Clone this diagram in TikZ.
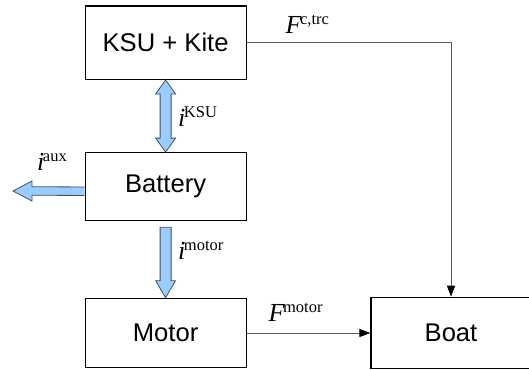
\documentclass[tikz,border=0pt]{standalone}
\usepackage{fontspec}
\setmainfont{Liberation Sans}
\newfontfamily\tnr{Liberation Serif}
\usetikzlibrary{calc,arrows.meta}
\definecolor{arrfill}{RGB}{153,204,255}
\definecolor{arrline}{RGB}{70,80,100}
\definecolor{connc}{RGB}{90,90,90}
\newcommand\mlab[2]{{\tnr\fontsize{26}{26}\selectfont\itshape #1}\kern-1.5pt{\tnr\fontsize{16.5}{16.5}\selectfont\raisebox{8.5pt}{#2}}}
\begin{document}
\begin{tikzpicture}[x=1pt,y=-1pt,
  blockbox/.style={draw=black,line width=1.2pt,minimum width=161pt,minimum height=#1,inner sep=0pt,font=\fontsize{25.6}{30}\selectfont},
  blockarrow/.style={fill=arrfill,draw=arrline,line width=0.8pt,line join=miter},
  conn/.style={draw=connc,line width=1pt,-{Triangle[length=11pt,width=8pt,fill=black,color=black]}},
  lab/.style={anchor=base west,inner sep=0pt}]
\useasboundingbox (0,0) rectangle (529,369);
\node[blockbox=73.3pt] (ksu) at (165.6,42.7) {KSU + Kite};
\node[blockbox=68pt] (bat) at (165.6,186.7) {Battery};
\node[blockbox=69.4pt] (mot) at (165.6,333) {Motor};
\node[blockbox=71pt,minimum width=160pt] (boat) at (451,332.8) {Boat};
% double arrow KSU <-> Battery
\draw[blockarrow] (ksu.south) -- ($(ksu.south)+(10,14)$) -- ($(ksu.south)+(5.5,14)$)
  -- ($(bat.north)+(5.5,-14)$) -- ($(bat.north)+(10,-14)$) -- (bat.north)
  -- ($(bat.north)+(-10,-14)$) -- ($(bat.north)+(-5.5,-14)$)
  -- ($(ksu.south)+(-5.5,14)$) -- ($(ksu.south)+(-10,14)$) -- cycle;
% Battery -> Motor
\coordinate (mt) at ($(bat.south)+(0,6)$);
\draw[blockarrow] ($(mt)+(-5.5,0)$) -- ($(mot.north)+(-5.5,-17)$) -- ($(mot.north)+(-10,-17)$)
  -- (mot.north) -- ($(mot.north)+(10,-17)$) -- ($(mot.north)+(5.5,-17)$) -- ($(mt)+(5.5,0)$) -- cycle;
% aux arrow
\coordinate (auxtip) at (13,191);
\coordinate (as) at ($(bat.west)+(0,4.5)$);
\filldraw[blockarrow] ($(as)+(0,-4.25)$) -- ($(auxtip)+(19,-4.25)$) -- ($(auxtip)+(19,-10)$)
  -- (auxtip) -- ($(auxtip)+(19,10)$) -- ($(auxtip)+(19,4.25)$) -- ($(as)+(0,4.25)$);
% connectors
\draw[conn] (ksu.east) -| (boat.north);
\draw[conn] (mot.east) -- (mot.east -| boat.west);
% labels
\node[lab] (lfc) at (285.5,33.3) {\mlab{F}{c,trc}};
\node[lab] (lik) at (178,126) {\mlab{i}{KSU}};
\node[lab] (lia) at (37,170) {\mlab{i}{aux}};
\node[lab] (lim) at (178,259.3) {\mlab{i}{motor}};
\node[lab] (lfm) at (268.5,321.3) {\mlab{F}{motor}};
\end{tikzpicture}
\end{document}
